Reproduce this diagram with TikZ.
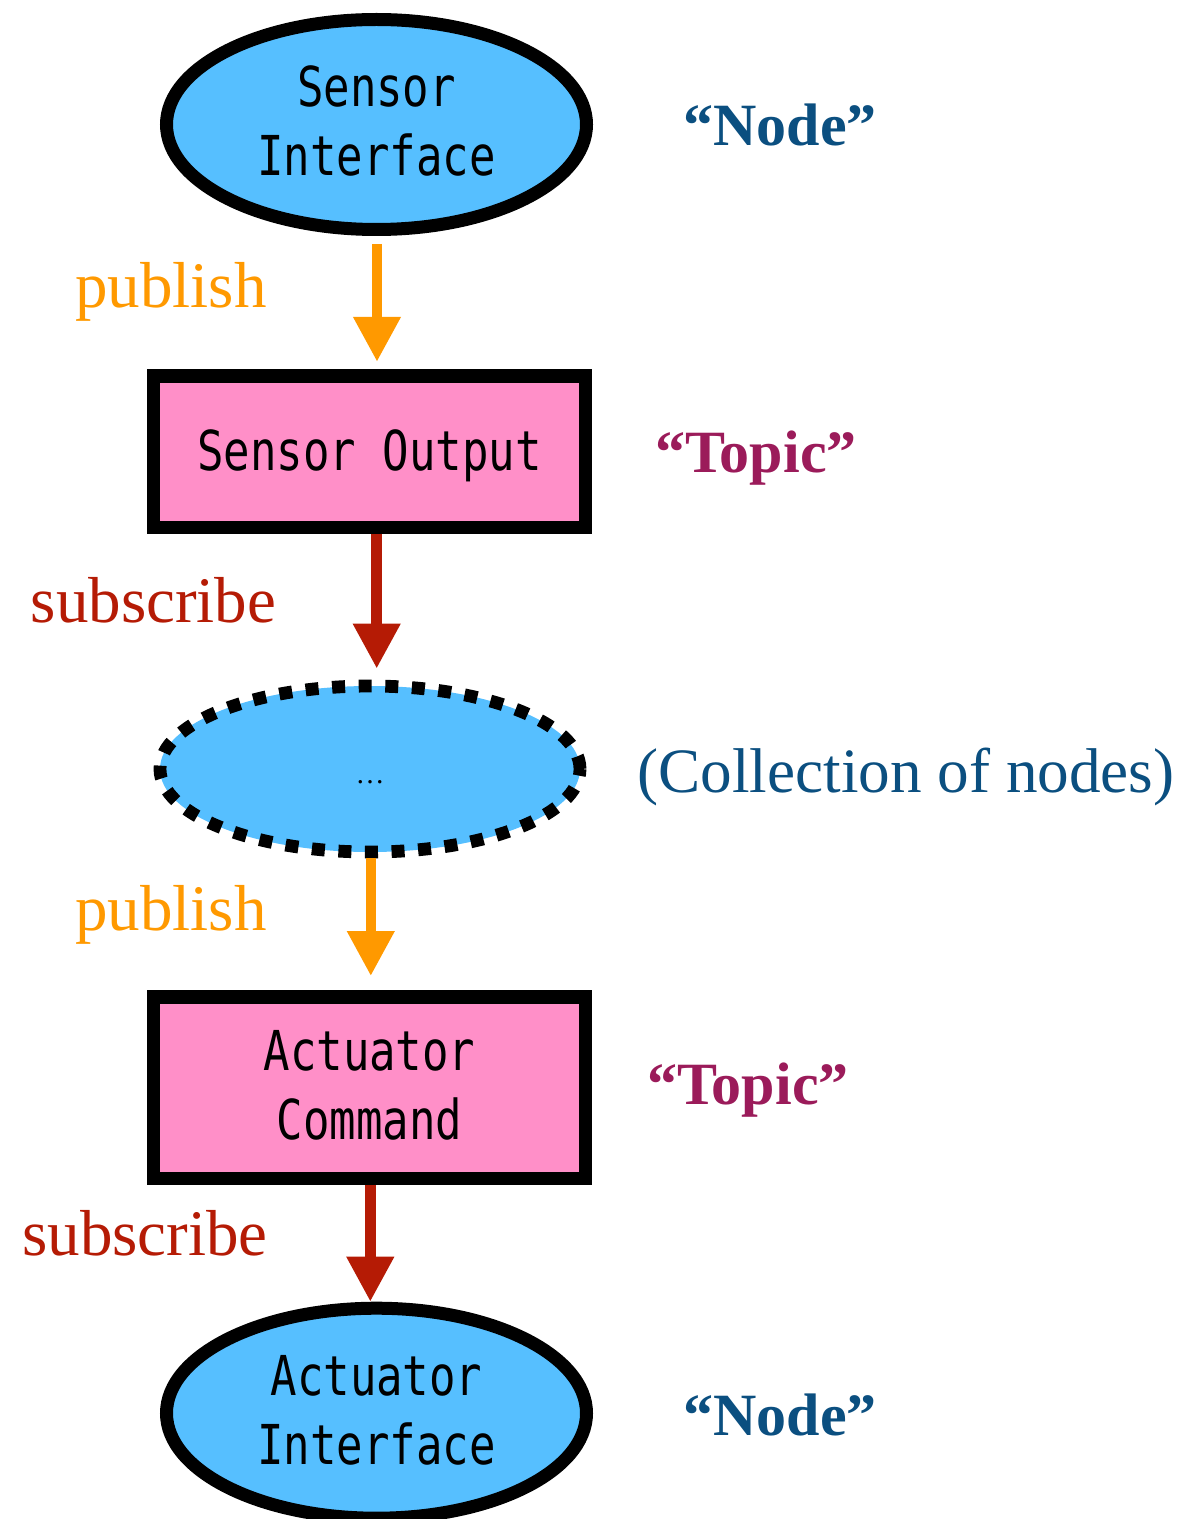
\documentclass[tikz,border=0pt]{standalone}
\usepackage{fontspec}
\setmainfont{Liberation Serif}
\newfontfamily\monofont[FakeStretch=0.8]{DejaVu Sans Mono}
\usetikzlibrary{arrows.meta,shapes.geometric}

\definecolor{nodeblue}{RGB}{86,191,255}
\definecolor{topicpink}{RGB}{255,143,200}
\definecolor{puborange}{RGB}{255,153,0}
\definecolor{subred}{RGB}{181,27,5}
\definecolor{labelblue}{RGB}{11,79,128}
\definecolor{labelplum}{RGB}{155,27,90}

\tikzset{
  rosnode/.style={ellipse, draw=black, fill=nodeblue, line width=6.5pt,
    minimum width=210pt, minimum height=105pt, inner sep=0pt, align=center,
    text depth=3.5pt, font=\monofont\fontsize{27.5}{34.5}\selectfont},
  groupnode/.style={ellipse, draw=black, fill=nodeblue, line width=6.4pt,
    dash pattern=on 6.5pt off 6.8pt,
    minimum width=210pt, minimum height=83pt, inner sep=0pt,
    font=\fontsize{14.5}{17}\selectfont},
  topicbox/.style={rectangle, draw=black, fill=topicpink, line width=6.75pt,
    minimum width=216pt, inner sep=0pt, align=center,
    font=\monofont\fontsize{27.5}{34.5}\selectfont},
  pubarrow/.style={draw=puborange, line width=5.25pt,
    -{Triangle[width=22.5pt,length=22.5pt]}},
  subarrow/.style={draw=subred, line width=5.25pt,
    -{Triangle[width=22.5pt,length=22.5pt]}},
  verb/.style={font=\fontsize{32.5}{39}\selectfont, anchor=base, inner sep=0pt},
  kind/.style={font=\bfseries\fontsize{30}{36}\selectfont, anchor=base, inner sep=0pt},
}

\begin{document}
\begin{tikzpicture}[x=0.5pt,y=-0.5pt]
  \useasboundingbox (0,0) rectangle (1184,1519);

  % nodes and topics of the pipeline
  \node[rosnode] (sensor) at (376.5,124.5) {Sensor\\Interface};
  \node[topicbox, minimum height=75.65pt, text depth=0pt] (sout) at (369.5,451.7)
    {\raisebox{1.5pt}{Sensor Output}};
  \node[groupnode] (group) at (370,769) {\raisebox{-7pt}[0pt][0pt]{…}};
  \node[topicbox, minimum height=90.75pt, text depth=2.5pt] (acmd) at (369.5,1087.5)
    {Actuator\\Command};
  \node[rosnode] (actuator) at (376.5,1413.2) {Actuator\\Interface};

  % message flow
  \draw[pubarrow] ([xshift=0.25pt,yshift=-4pt]sensor.south)
    -- ([xshift=0.25pt,yshift=3.75pt]sensor.south |- sout.north);
  \draw[subarrow] ([xshift=3.6pt]sout.south)
    -- ([xshift=3.6pt,yshift=5.5pt]sout.south |- group.north);
  \draw[pubarrow] ([xshift=0.4pt]group.south)
    -- ([xshift=0.4pt,yshift=7pt]group.south |- acmd.north);
  \draw[subarrow] ([xshift=0.4pt]acmd.south)
    -- ([xshift=0.4pt]acmd.south |- actuator.north);

  % edge labels
  \node[verb, text=puborange] (pub1) at (171,308) {publish};
  \node[verb, text=subred] (sub1) at (153.5,622) {subscribe};
  \node[verb, text=puborange] (pub2) at (171,930) {publish};
  \node[verb, text=subred] (sub2) at (145,1255) {subscribe};

  % role annotations
  \node[kind, text=labelblue] (k1) at (780,146) {“Node”};
  \node[kind, text=labelplum] (k2) at (756,472) {“Topic”};
  \node[verb, text=labelblue, font=\fontsize{31.6}{38}\selectfont] (k3) at (906,792) {(Collection of nodes)};
  \node[kind, text=labelplum] (k4) at (748,1104) {“Topic”};
  \node[kind, text=labelblue] (k5) at (780,1435) {“Node”};
\end{tikzpicture}
\end{document}
